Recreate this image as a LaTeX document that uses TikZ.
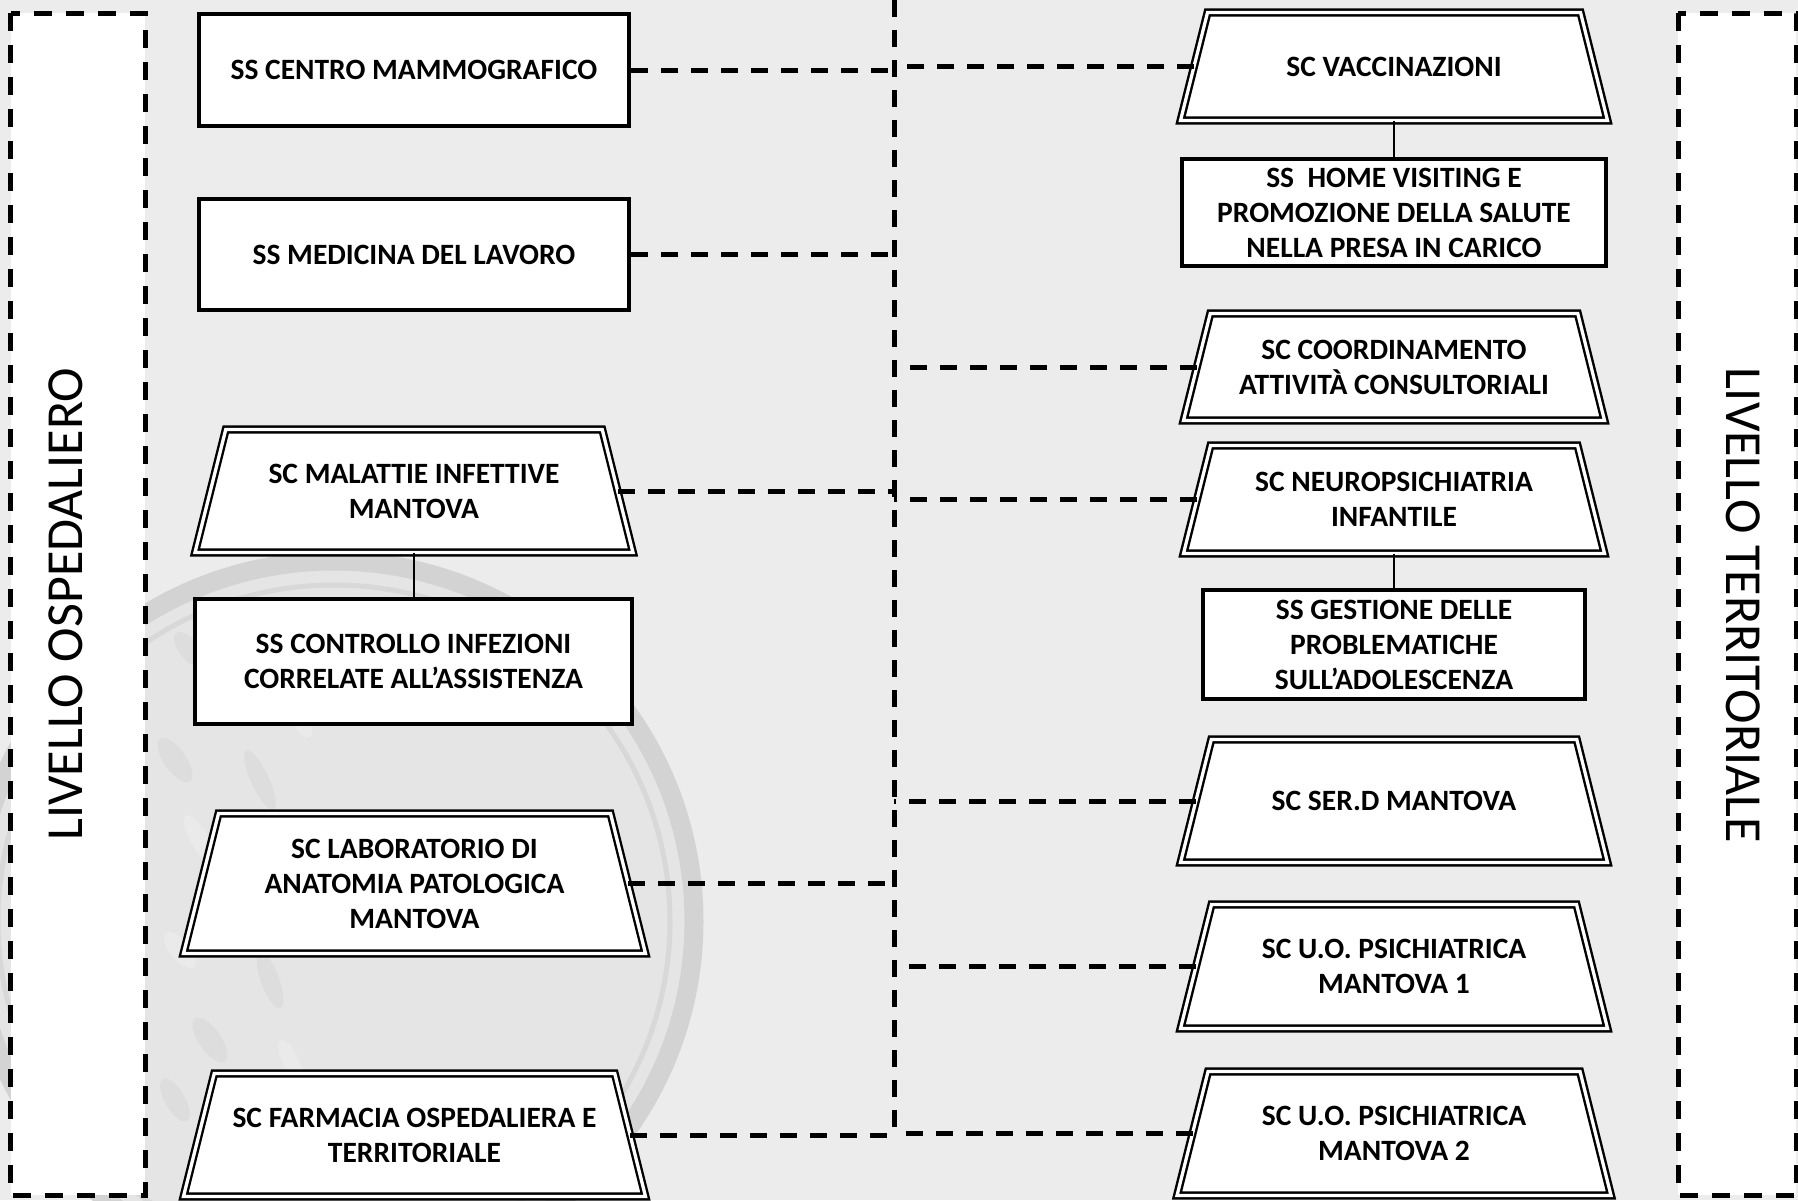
\documentclass[tikz,border=0pt]{standalone}
\usepackage{fontspec}
\setmainfont{Carlito}
\definecolor{bgc}{HTML}{ECECEC}
\definecolor{wmin}{HTML}{E5E5E5}
\definecolor{wmring}{HTML}{D3D3D3}
\definecolor{wmthin}{HTML}{D8D8D8}
\definecolor{wmdark}{HTML}{DDDDDD}
\definecolor{wmlight}{HTML}{EAEAEA}
\newcommand\unitfont{\fontsize{29.5}{35}\selectfont\bfseries}
\newcommand\sidefont{\fontsize{52}{56}\selectfont}
% trapezoid unit: name, x, y, bottom width, height, text
\newcommand\trapbox[6]{%
  \pgfmathsetmacro\tbo{0.25*#5}%
  \pgfmathsetmacro\tbl{#2-#4/2}\pgfmathsetmacro\tbr{#2+#4/2}%
  \pgfmathsetmacro\tbt{#3-#5/2}\pgfmathsetmacro\tbb{#3+#5/2}%
  \filldraw[trapline] (\tbl,\tbb) -- (\tbl+\tbo,\tbt) -- (\tbr-\tbo,\tbt) -- (\tbr,\tbb) -- cycle;
  \node[unittext] (#1) at (#2,#3) {#6};
  \coordinate (#1-w) at (\tbl+\tbo/2,#3);
  \coordinate (#1-e) at (\tbr-\tbo/2,#3);
  \coordinate (#1-s) at (#2,\tbb);
}
\begin{document}
\begin{tikzpicture}[x=1pt,y=-1pt,
  rectunit/.style={draw, line width=4pt, fill=white, align=center, inner sep=0pt, font=\unitfont},
  unittext/.style={align=center, inner sep=0pt, font=\unitfont},
  trapline/.style={fill=white, draw, line width=2.4pt, double=white, double distance=3.3pt, line join=miter},
  conn/.style={draw, line width=5pt, dash pattern=on 17pt off 13pt},
  panel/.style={draw, line width=5pt, dash pattern=on 18pt off 14pt, fill=white},
  tree/.style={draw, line width=2.4pt},
  sidelabel/.style={font=\sidefont, inner sep=0pt}]
\useasboundingbox (0,0) rectangle (1798,1200);
\clip (0,0) rectangle (1798,1200);
\fill[bgc] (0,0) rectangle (1798,1200);

% watermark (faint emblem)
\fill[wmin] (334,921) circle[radius=360];
\foreach \x/\y/\a/\b/\r/\c in {
  190/650/22/10/-50/wmdark, 230/700/30/9/-60/wmlight, 175/760/26/11/-55/wmdark,
  260/780/32/9/-65/wmdark, 200/840/28/9/-60/wmlight, 240/900/36/11/-60/wmdark,
  180/950/22/10/-50/wmlight, 270/980/30/9/-70/wmdark, 210/1040/26/11/-55/wmdark,
  290/1060/22/8/-65/wmlight, 175/1100/24/10/-60/wmdark, 320/860/25/9/-70/wmlight,
  300/720/20/8/-60/wmlight, 250/1120/30/9/-55/wmdark}
  {\fill[\c, rotate around={\r:(\x,\y)}] (\x,\y) ellipse[x radius=\a, y radius=\b];}
\draw[wmthin, line width=5pt] (334,921) circle[radius=336];
\draw[wmring, line width=19pt] (334,921) circle[radius=360];

% side panels
\draw[panel] (10.5,13) rectangle (145,1195);
\draw[panel] (1678,13) rectangle (1796,1195);
\node[sidelabel, rotate=90] (lo) at (66,604) {LIVELLO OSPEDALIERO};
\node[sidelabel, rotate=-90] (lt) at (1743,605) {LIVELLO TERRITORIALE};

% central dashed line
\coordinate (ctop) at (894,0);
\coordinate (cbot) at (894,1133);

% left column
\node[rectunit, minimum width=430pt, minimum height=112pt] (n1) at (414,70) {SS CENTRO MAMMOGRAFICO};
\node[rectunit, minimum width=430pt, minimum height=111pt] (n2) at (414,254.5) {SS MEDICINA DEL LAVORO};
\trapbox{n3}{414}{491}{438}{123}{SC MALATTIE INFETTIVE\\MANTOVA}
\node[rectunit, minimum width=437pt, minimum height=125pt] (n4) at (413.5,661.5) {SS CONTROLLO INFEZIONI\\CORRELATE ALL’ASSISTENZA};
\trapbox{n5}{414.5}{883.5}{462}{140}{SC LABORATORIO DI\\ANATOMIA PATOLOGICA\\MANTOVA}
\trapbox{n6}{414.5}{1135}{462}{123}{SC FARMACIA OSPEDALIERA E\\TERRITORIALE}

% right column
\trapbox{n7}{1394}{66.5}{427}{108}{SC VACCINAZIONI}
\node[rectunit, minimum width=424pt, minimum height=107pt] (n8) at (1394,212.5) {SS~~HOME VISITING E\\PROMOZIONE DELLA SALUTE\\NELLA PRESA IN CARICO};
\trapbox{n9}{1394}{367}{421}{107}{SC COORDINAMENTO\\ATTIVITÀ CONSULTORIALI}
\trapbox{n10}{1394}{499.5}{421}{108}{SC NEUROPSICHIATRIA\\INFANTILE}
\node[rectunit, minimum width=382pt, minimum height=109pt] (n11) at (1394,644.5) {SS GESTIONE DELLE\\PROBLEMATICHE\\SULL’ADOLESCENZA};
\trapbox{n12}{1394}{801}{427}{123}{SC SER.D MANTOVA}
\trapbox{n13}{1394}{966.5}{427}{124}{SC U.O. PSICHIATRICA\\MANTOVA 1}
\trapbox{n14}{1394}{1133.5}{434}{124}{SC U.O. PSICHIATRICA\\MANTOVA 2}

% solid hierarchy links
\draw[tree] (n3-s) -- (n3-s |- n4.north);
\draw[tree] (n7-s) -- (n7-s |- n8.north);
\draw[tree] (n10-s) -- (n10-s |- n11.north);

% dashed links
\draw[conn] (ctop) -- (cbot);
\draw[conn] (n1.east) -- (n1.east -| ctop);
\draw[conn] (n2.east) -- (n2.east -| ctop);
\foreach \n in {n3,n5,n6}
  {\draw[conn] (\n-e) -- (\n-e -| ctop);}
\foreach \n in {n7,n9,n10,n12,n13,n14}
  {\draw[conn] (\n-w) -- (\n-w -| ctop);}
\end{tikzpicture}
\end{document}
